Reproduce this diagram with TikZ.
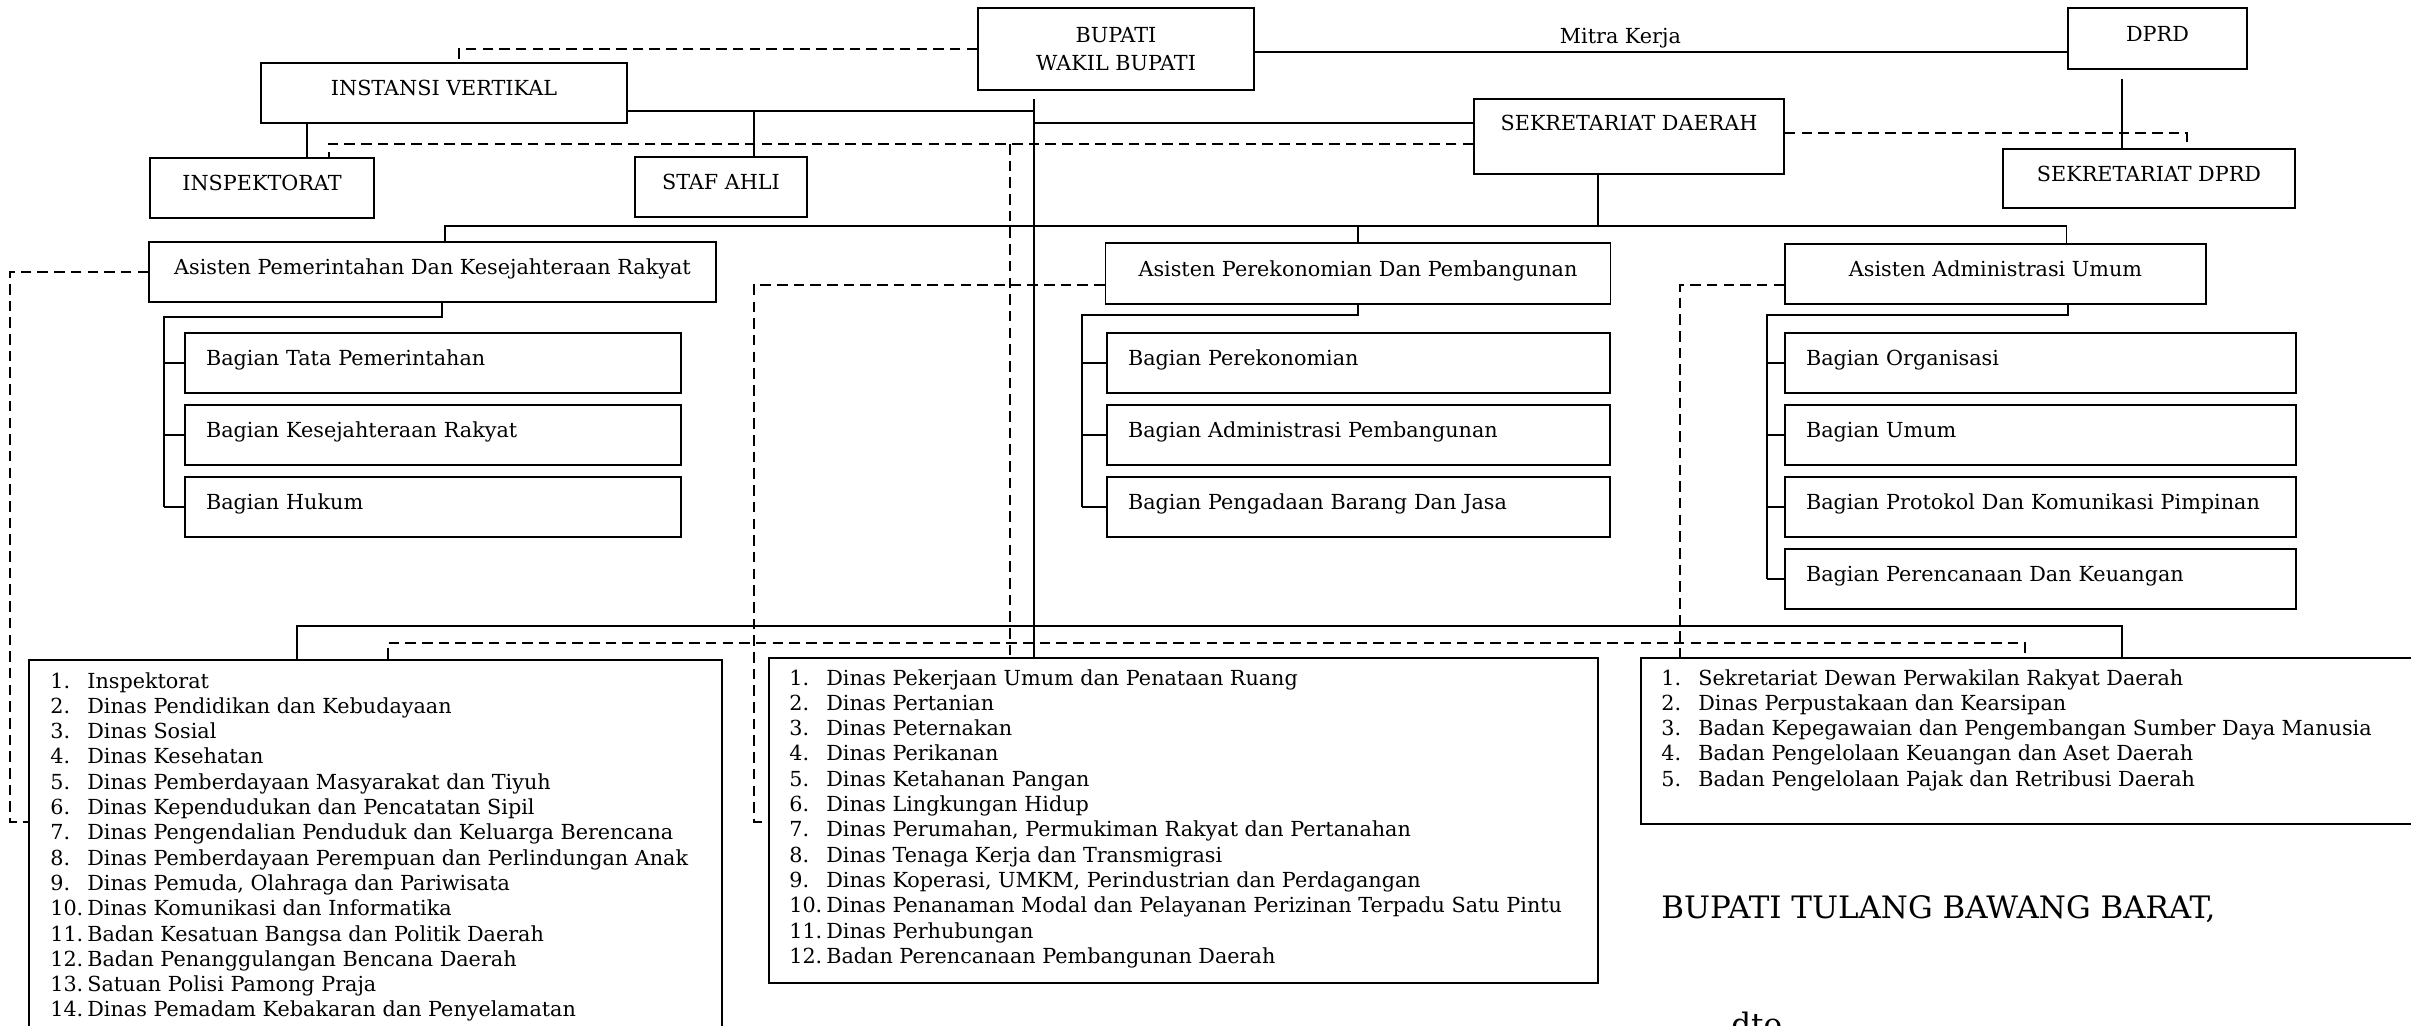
\documentclass[tikz,border=0pt]{standalone}
\usepackage{fontspec}
\setmainfont{DejaVu Serif}
\usetikzlibrary{positioning,calc}
\newcommand\orgfont{\fontsize{11.8}{14.4}\selectfont}
\tikzset{
  % framed unit, text sitting a little above the middle
  box/.style  = {rectangle, draw, line width=1pt, inner sep=0pt, font=\orgfont,
                 text height=8.6pt, text depth=5.7pt},
  hd/.style   = {rectangle, draw, line width=1pt, inner sep=0pt, align=center,
                 font=\fontsize{11.8}{15.9}\selectfont},
  bag/.style  = {box, text width=#1, align=left, inner xsep=0.42cm, minimum height=1.2cm},
  lst/.style  = {rectangle, draw, line width=1pt, inner sep=0pt},
  itm/.style  = {inner sep=0pt, font=\orgfont},
  ln/.style   = {line width=0.8pt},
  dln/.style  = {line width=0.8pt, dash pattern=on 6pt off 3.5pt},
  tag/.style  = {font=\orgfont},
}

\begin{document}
\begin{tikzpicture}[x=0.02cm, y=-0.02cm]
\useasboundingbox (0,0) rectangle (2411,1026);
\clip (0,0) rectangle (2411,1026);

% top level
\node[hd,  minimum width=5.52cm, minimum height=1.64cm] (bupati)   at (1116,49)    {BUPATI\\WAKIL BUPATI};
\node[box, minimum width=3.58cm, minimum height=1.22cm] (dprd)     at (2157.5,38.5) {DPRD};
\node[box, minimum width=7.32cm, minimum height=1.2cm]  (instansi) at (444,93)     {INSTANSI VERTIKAL};
\node[box, text depth=15.4pt, minimum width=6.2cm, minimum height=1.5cm] (sekda) at (1629,136.5) {SEKRETARIAT DAERAH};
\node[box, minimum width=4.48cm, minimum height=1.2cm]  (inspektorat) at (262,188)  {INSPEKTORAT};
\node[box, minimum width=3.44cm, minimum height=1.2cm]  (stafahli) at (721,187)    {STAF AHLI};
\node[box, minimum width=5.84cm, minimum height=1.18cm] (setdprd)  at (2149,178.5) {SEKRETARIAT DPRD};

% asisten
\node[box, minimum width=11.34cm, minimum height=1.2cm]  (astPem) at (432.5,272)  {Asisten Pemerintahan Dan Kesejahteraan Rakyat};
\node[box, minimum width=10.1cm,  minimum height=1.22cm] (astEko) at (1358,273.5) {Asisten Perekonomian Dan Pembangunan};
\node[box, minimum width=8.42cm,  minimum height=1.2cm]  (astAdm) at (1995.5,274) {Asisten Administrasi Umum};

% bagian
\node[bag=9.08cm] (bagL1) at (433,363) {Bagian Tata Pemerintahan};
\node[bag=9.08cm] (bagL2) at (433,435) {Bagian Kesejahteraan Rakyat};
\node[bag=9.08cm] (bagL3) at (433,507) {Bagian Hukum};
\node[bag=9.22cm] (bagM1) at (1358.5,363) {Bagian Perekonomian};
\node[bag=9.22cm] (bagM2) at (1358.5,435) {Bagian Administrasi Pembangunan};
\node[bag=9.22cm] (bagM3) at (1358.5,507) {Bagian Pengadaan Barang Dan Jasa};
\node[bag=9.38cm] (bagR1) at (2040.5,363) {Bagian Organisasi};
\node[bag=9.38cm] (bagR2) at (2040.5,435) {Bagian Umum};
\node[bag=9.38cm] (bagR3) at (2040.5,507) {Bagian Protokol Dan Komunikasi Pimpinan};
\node[bag=9.38cm] (bagR4) at (2040.5,579) {Bagian Perencanaan Dan Keuangan};

% dinas / badan
\node[lst, minimum width=13.86cm, minimum height=8.02cm, anchor=north west] (dinasL) at (28,659) {};
\node[itm, anchor=north west] (dinasLtxt) at ([xshift=0.44cm, yshift=-0.22cm]dinasL.north west)
  {\begin{tabular}{@{}p{0.74cm}@{}l@{}}
   1. & Inspektorat\\
   2. & Dinas Pendidikan dan Kebudayaan\\
   3. & Dinas Sosial\\
   4. & Dinas Kesehatan\\
   5. & Dinas Pemberdayaan Masyarakat dan Tiyuh\\
   6. & Dinas Kependudukan dan Pencatatan Sipil\\
   7. & Dinas Pengendalian Penduduk dan Keluarga Berencana\\
   8. & Dinas Pemberdayaan Perempuan dan Perlindungan Anak\\
   9. & Dinas Pemuda, Olahraga dan Pariwisata\\
   10. & Dinas Komunikasi dan Informatika\\
   11. & Badan Kesatuan Bangsa dan Politik Daerah\\
   12. & Badan Penanggulangan Bencana Daerah\\
   13. & Satuan Polisi Pamong Praja\\
   14. & Dinas Pemadam Kebakaran dan Penyelamatan
   \end{tabular}};
\node[lst, minimum width=16.58cm, minimum height=6.5cm, anchor=north west] (dinasM) at (768,657) {};
\node[itm, anchor=north west] (dinasMtxt) at ([xshift=0.42cm, yshift=-0.2cm]dinasM.north west)
  {\begin{tabular}{@{}p{0.74cm}@{}l@{}}
   1. & Dinas Pekerjaan Umum dan Penataan Ruang\\
   2. & Dinas Pertanian\\
   3. & Dinas Peternakan\\
   4. & Dinas Perikanan\\
   5. & Dinas Ketahanan Pangan\\
   6. & Dinas Lingkungan Hidup\\
   7. & Dinas Perumahan, Permukiman Rakyat dan Pertanahan\\
   8. & Dinas Tenaga Kerja dan Transmigrasi\\
   9. & Dinas Koperasi, UMKM, Perindustrian dan Perdagangan\\
   10. & Dinas Penanaman Modal dan Pelayanan Perizinan Terpadu Satu Pintu\\
   11. & Dinas Perhubungan\\
   12. & Badan Perencanaan Pembangunan Daerah
   \end{tabular}};
\node[lst, minimum width=16cm, minimum height=3.32cm, anchor=north west] (dinasR) at (1640,657) {};
\node[itm, anchor=north west] (dinasRtxt) at ([xshift=0.42cm, yshift=-0.2cm]dinasR.north west)
  {\begin{tabular}{@{}p{0.74cm}@{}l@{}}
   1. & Sekretariat Dewan Perwakilan Rakyat Daerah\\
   2. & Dinas Perpustakaan dan Kearsipan\\
   3. & Badan Kepegawaian dan Pengembangan Sumber Daya Manusia\\
   4. & Badan Pengelolaan Keuangan dan Aset Daerah\\
   5. & Badan Pengelolaan Pajak dan Retribusi Daerah
   \end{tabular}};

% signature
\node[inner sep=0pt, anchor=base west, font=\fontsize{17.6}{21}\selectfont] (ttd) at (1661,918.5) {BUPATI TULANG BAWANG BARAT,};
\node[inner sep=0pt, anchor=base west, font=\fontsize{17.6}{21}\selectfont] (dto) at (1731,1035) {dto};

% helper points
\coordinate (mk) at ([yshift=-0.06cm]bupati.east);
\coordinate (stem) at (1034,99);
\coordinate (iv) at ([yshift=-0.36cm]instansi.east);
\coordinate (ip) at ([xshift=0.9cm]inspektorat.north);
\coordinate (sw) at ([yshift=0.27cm]sekda.west);
\coordinate (sd) at ([yshift=-0.15cm]sekda.west);
\coordinate (se) at ([yshift=0.07cm]sekda.east);
\coordinate (sa) at ([xshift=0.66cm]stafahli.north);
\coordinate (dv) at (1010,0);
\coordinate (dp) at ([xshift=-0.71cm, yshift=-0.18cm]dprd.south);
\coordinate (sk) at ([xshift=-0.62cm]sekda.south);
\coordinate (bus) at (0,226);
\coordinate (p1) at ([xshift=0.25cm]astPem.north);
\coordinate (p3) at ([xshift=1.42cm]astAdm.north);
\coordinate (q1) at ([xshift=0.19cm]astPem.south);
\coordinate (q3) at ([xshift=1.45cm]astAdm.south);
\coordinate (r1) at (164,317);
\coordinate (r2) at (1082,315);
\coordinate (r3) at (1767,315);
\coordinate (e1) at (10,822);
\coordinate (e2) at (754,822);
\coordinate (sbus) at (0,626);
\coordinate (b1) at ([xshift=5.38cm]dinasL.north west);
\coordinate (b3) at ([xshift=9.64cm]dinasR.north west);
\coordinate (dl) at (388,643);
\coordinate (dr) at (2025,643);

% solid lines of command
\draw[ln] (mk) -- node[tag, pos=0.45, above=-1.7pt] {Mitra Kerja} (mk -| dprd.west);
\draw[ln] (stem) -- (stem |- dinasM.north);
\draw[ln] (iv) -- (iv -| stem);
\draw[ln] (iv -| sa) -- (sa |- stafahli.north);
\draw[ln] (ip |- instansi.south) -- (ip);
\draw[ln] (stem |- sw) -- (sw);
\draw[ln] (dp) -- (dp |- setdprd.north);
\draw[ln] (sk) -- (sk |- bus);
\draw[ln] (p1) -- (p1 |- bus) -- (p3 |- bus) -- (p3);
\draw[ln] (astEko.north |- bus) -- (astEko.north);
\draw[ln] (q1) |- (r1) -- (r1 |- bagL3.west);
\draw[ln] (astEko.south) |- (r2) -- (r2 |- bagM3.west);
\draw[ln] (q3) |- (r3) -- (r3 |- bagR4.west);
\foreach \n in {1,2,3} {
  \draw[ln] (r1 |- bagL\n.west) -- (bagL\n.west);
  \draw[ln] (r2 |- bagM\n.west) -- (bagM\n.west);
}
\foreach \n in {1,2,3,4}
  \draw[ln] (r3 |- bagR\n.west) -- (bagR\n.west);
\draw[ln] (b1) -- (b1 |- sbus) -- (b3 |- sbus) -- (b3);

% dashed lines of coordination
\draw[dln] (bupati.west) -| ([xshift=0.3cm]instansi.north);
\draw[dln] (sd) -| ([xshift=1.34cm]inspektorat.north);
\draw[dln] (sa |- sd) -- (sa);
\draw[dln] (sd -| dv) -- (dv |- dinasM.north);
\draw[dln] (se) -| ([xshift=0.76cm]setdprd.north);
\draw[dln] (dl |- dinasL.north) -- (dl) -- (dr) -- (dr |- dinasR.north);
\draw[dln] (astPem.west) -| (e1) -- (e1 -| dinasL.west);
\draw[dln] ([yshift=-0.23cm]astEko.west) -| (e2) -- (e2 -| dinasM.west);
\draw[dln] ([yshift=-0.22cm]astAdm.west) -| ([xshift=0.8cm]dinasR.north west);
\end{tikzpicture}
\end{document}
